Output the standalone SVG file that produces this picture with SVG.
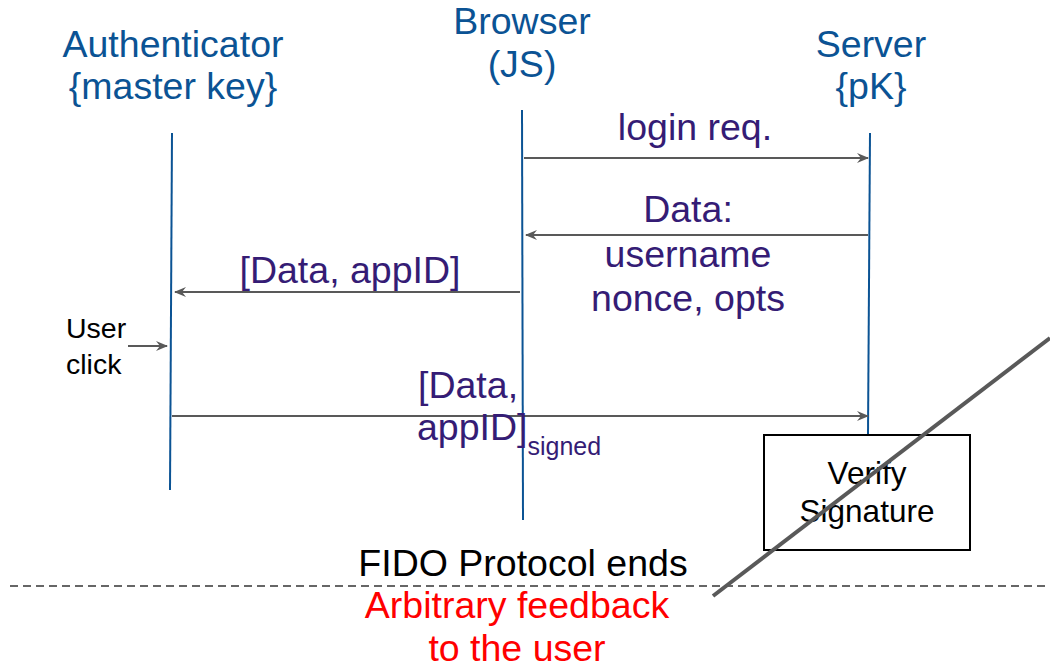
<svg xmlns="http://www.w3.org/2000/svg" width="1050" height="666" viewBox="0 0 1050 666">
<style>
.t{font-family:"Liberation Sans",Arial,sans-serif;text-anchor:middle}
.title{font-size:37.5px;fill:#0b5394}
.msg{font-size:37.5px;fill:#351c75;font-family:"Liberation Sans",Arial,sans-serif}
.life{stroke:#0b5394;stroke-width:2;fill:none}
.arr{stroke:#595959;stroke-width:2;fill:none;marker-end:url(#ah)}
.blk{fill:#000}
</style>
<defs>
<marker id="ah" viewBox="0 0 12 10" refX="11" refY="5" markerWidth="12" markerHeight="10" markerUnits="userSpaceOnUse" orient="auto">
<path d="M0,0 L12,5 L0,10 L4,5 z" fill="#595959"/>
</marker>
</defs>
<rect width="1050" height="666" fill="#fff"/>
<g id="authenticator">
<text class="t title" x="173" y="57">Authenticator</text>
<text class="t title" x="173" y="99">{master key}</text>
<line class="life" x1="172" y1="133" x2="170" y2="490"/>
</g>
<g id="browser">
<text class="t title" x="522" y="34">Browser</text>
<text class="t title" x="522" y="77">(JS)</text>
<line class="life" x1="522" y1="110" x2="523" y2="520"/>
</g>
<g id="server">
<text class="t title" x="871" y="57">Server</text>
<text class="t title" x="871" y="99">{pK}</text>
<line class="life" x1="870" y1="133" x2="868" y2="435"/>
</g>
<g id="verify">
<rect x="764" y="435" width="206" height="115" fill="#fff" stroke="#000" stroke-width="2"/>
<text class="t blk" x="867" y="484" font-size="31.5">Verify</text>
<text class="t blk" x="867" y="522" font-size="31.5">Signature</text>
</g>
<g id="connectors">
<line class="arr" x1="524" y1="158" x2="868" y2="158"/>
<line class="arr" x1="868" y1="235" x2="526" y2="235"/>
<line class="arr" x1="520" y1="292" x2="175" y2="292"/>
<line class="arr" x1="128" y1="346" x2="167" y2="346"/>
<line class="arr" x1="172" y1="416" x2="868" y2="416"/>
</g>
<g id="labels">
<text class="t msg" x="695" y="140">login req.</text>
<text class="t msg" x="688" y="222">Data:</text>
<text class="t msg" x="688" y="267">username</text>
<text class="t msg" x="688" y="311">nonce, opts</text>
<text class="t msg" x="350" y="283">[Data, appID]</text>
<text class="msg" x="418" y="398">[Data,</text>
<text class="msg" x="417" y="440">appID]<tspan font-size="25" dy="15">signed</tspan></text>
<text class="blk" x="66" y="338" font-family="Liberation Sans,Arial,sans-serif" font-size="28.5">User</text>
<text class="blk" x="66" y="374" font-family="Liberation Sans,Arial,sans-serif" font-size="28.5">click</text>
</g>
<g id="footer">
<line x1="10" y1="586" x2="1050" y2="586" stroke="#666" stroke-width="2" stroke-dasharray="8 5"/>
<text class="t blk" x="523" y="576" font-size="37.5">FIDO Protocol ends</text>
<text class="t" x="517" y="618" font-size="37.5" fill="#ff0000">Arbitrary feedback</text>
<text class="t" x="517" y="661" font-size="37.5" fill="#ff0000">to the user</text>
</g>
<line id="strike" x1="713" y1="596" x2="1050" y2="338" stroke="#595959" stroke-width="4"/>
</svg>
